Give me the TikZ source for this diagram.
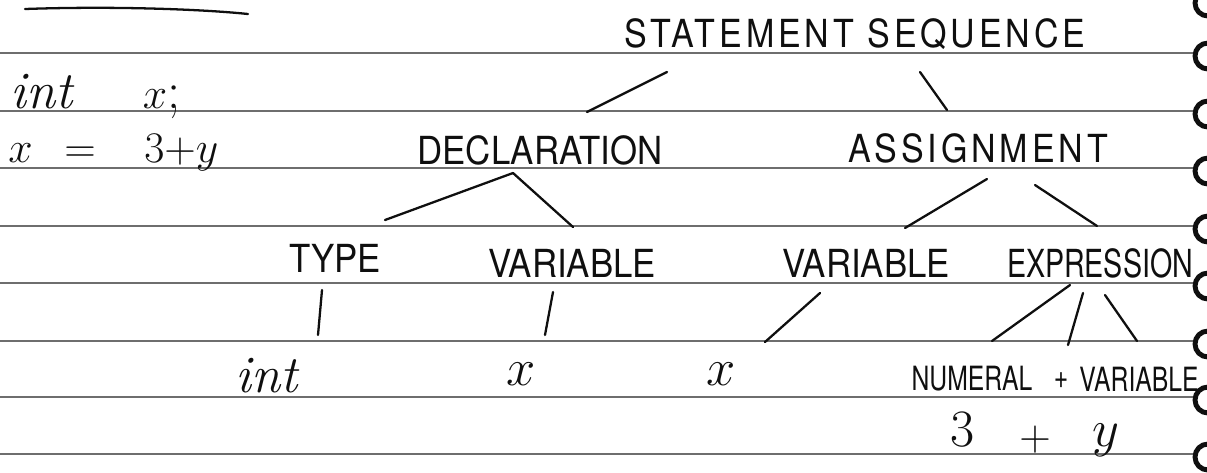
\documentclass[tikz,border=0pt]{standalone}
\usepackage{fontspec}
\setsansfont{TeX Gyre Heros}
\newfontfamily\handfont[FakeStretch=0.9]{TeX Gyre Heros}
\newfontfamily\handwidefont[FakeStretch=0.88, LetterSpace=10]{TeX Gyre Heros}
\newfontfamily\handnarrowfont[FakeStretch=0.74]{TeX Gyre Heros}
\usetikzlibrary{calc}
\definecolor{ruleColor}{RGB}{110,110,110}
\definecolor{inkColor}{RGB}{15,15,15}

\tikzset{
  caps/.style={font=\handfont\fontsize{22}{24}\selectfont, inner sep=0pt, text=inkColor},
  widecaps/.style={caps, font=\handwidefont\fontsize{22}{24}\selectfont},
  narrowcaps/.style={caps, font=\handnarrowfont\fontsize{22}{24}\selectfont},
  leafcaps/.style={font=\handnarrowfont\fontsize{19}{21}\selectfont, inner sep=0pt, text=inkColor},
  code/.style={font=\fontsize{30}{32}\selectfont, inner sep=0pt, text=inkColor},
  branch/.style={inkColor, line width=1.3pt, line cap=round},
  ruling/.style={ruleColor, line width=0.7pt},
  ring/.style={inkColor, line width=2.8pt},
}

\begin{document}
\begin{tikzpicture}[x=0.2mm, y=-0.2mm]
  \useasboundingbox (0,0) rectangle (1207,472);

  % Ruled paper and binding rings
  \foreach \ly in {53,111,168,226,283,341,397,454}{
    \draw[ruling] (0,\ly) -- (1196,\ly);
    \draw[ring] (1208,\ly-10) arc[start angle=90, end angle=270, radius=2.6mm];
  }
  \draw[ring] (1208,-10) arc[start angle=90, end angle=270, radius=2.6mm];

  % Stroke at the top left
  \draw[branch] (25,9) .. controls (110,6) and (200,9) .. (248,14);

  % The code being parsed
  \node[code, anchor=west] (decl code) at (10,96) {\textit{int}\hspace{1.3em}$x$;};
  \node[code, anchor=west] (assign code) at (8,153) {$x \;\,=\;\;\; 3{+}y$};

  % Parse tree
  \node[widecaps] (stmt) at (855,34) {STATEMENT SEQUENCE};
  \node[caps] (decl) at (540,150) {DECLARATION};
  \node[widecaps] (assign) at (978,148) {ASSIGNMENT};

  \node[caps] (type) at (335,258) {TYPE};
  \node[caps] (var a) at (572,263) {VARIABLE};
  \node[caps] (var b) at (866,263) {VARIABLE};
  \node[narrowcaps] (expr) at (1100,263) {EXPRESSION};

  \node[code] (int) at (268,376) {\textit{int}};
  \node[code, scale=1.2] (x a) at (521,374) {$x$};
  \node[code, scale=1.2] (x b) at (721,374) {$x$};
  \node[leafcaps] (num) at (972,379) {NUMERAL};
  \node[leafcaps] (plus) at (1061,381) {+};
  \node[leafcaps] (var c) at (1139,379) {VARIABLE};

  \node[code, scale=1.2] (three) at (963,430) {$3$};
  \node[code] (plus b) at (1035,440) {$+$};
  \node[code, scale=1.2] (y) at (1106,440) {$y$};

  % Branches
  \draw[branch] ($(stmt)+(-188,38)$) -- ($(decl)+(47,-38)$);
  \draw[branch] ($(stmt)+(65,38)$) -- ($(assign)+(-31,-38)$);
  \draw[branch] ($(decl)+(-27,23)$) -- ($(type)+(50,-38)$);
  \draw[branch] ($(decl)+(-27,23)$) -- ($(var a)+(1,-36)$);
  \draw[branch] ($(assign)+(9,31)$) -- ($(var b)+(39,-35)$);
  \draw[branch] ($(assign)+(57,37)$) -- ($(expr)+(-3,-37)$);
  \draw[branch] ($(type)+(-13,32)$) -- ($(int)+(50,-41)$);
  \draw[branch] ($(var a)+(-19,29)$) -- ($(x a)+(24,-39)$);
  \draw[branch] ($(var b)+(-46,30)$) -- ($(x b)+(44,-32)$);
  \draw[branch] ($(expr)+(-30,22)$) -- ($(num)+(20,-38)$);
  \draw[branch] ($(expr)+(-17,30)$) -- ($(plus)+(7,-36)$);
  \draw[branch] ($(expr)+(5,32)$) -- ($(var c)+(-2,-38)$);
\end{tikzpicture}
\end{document}
